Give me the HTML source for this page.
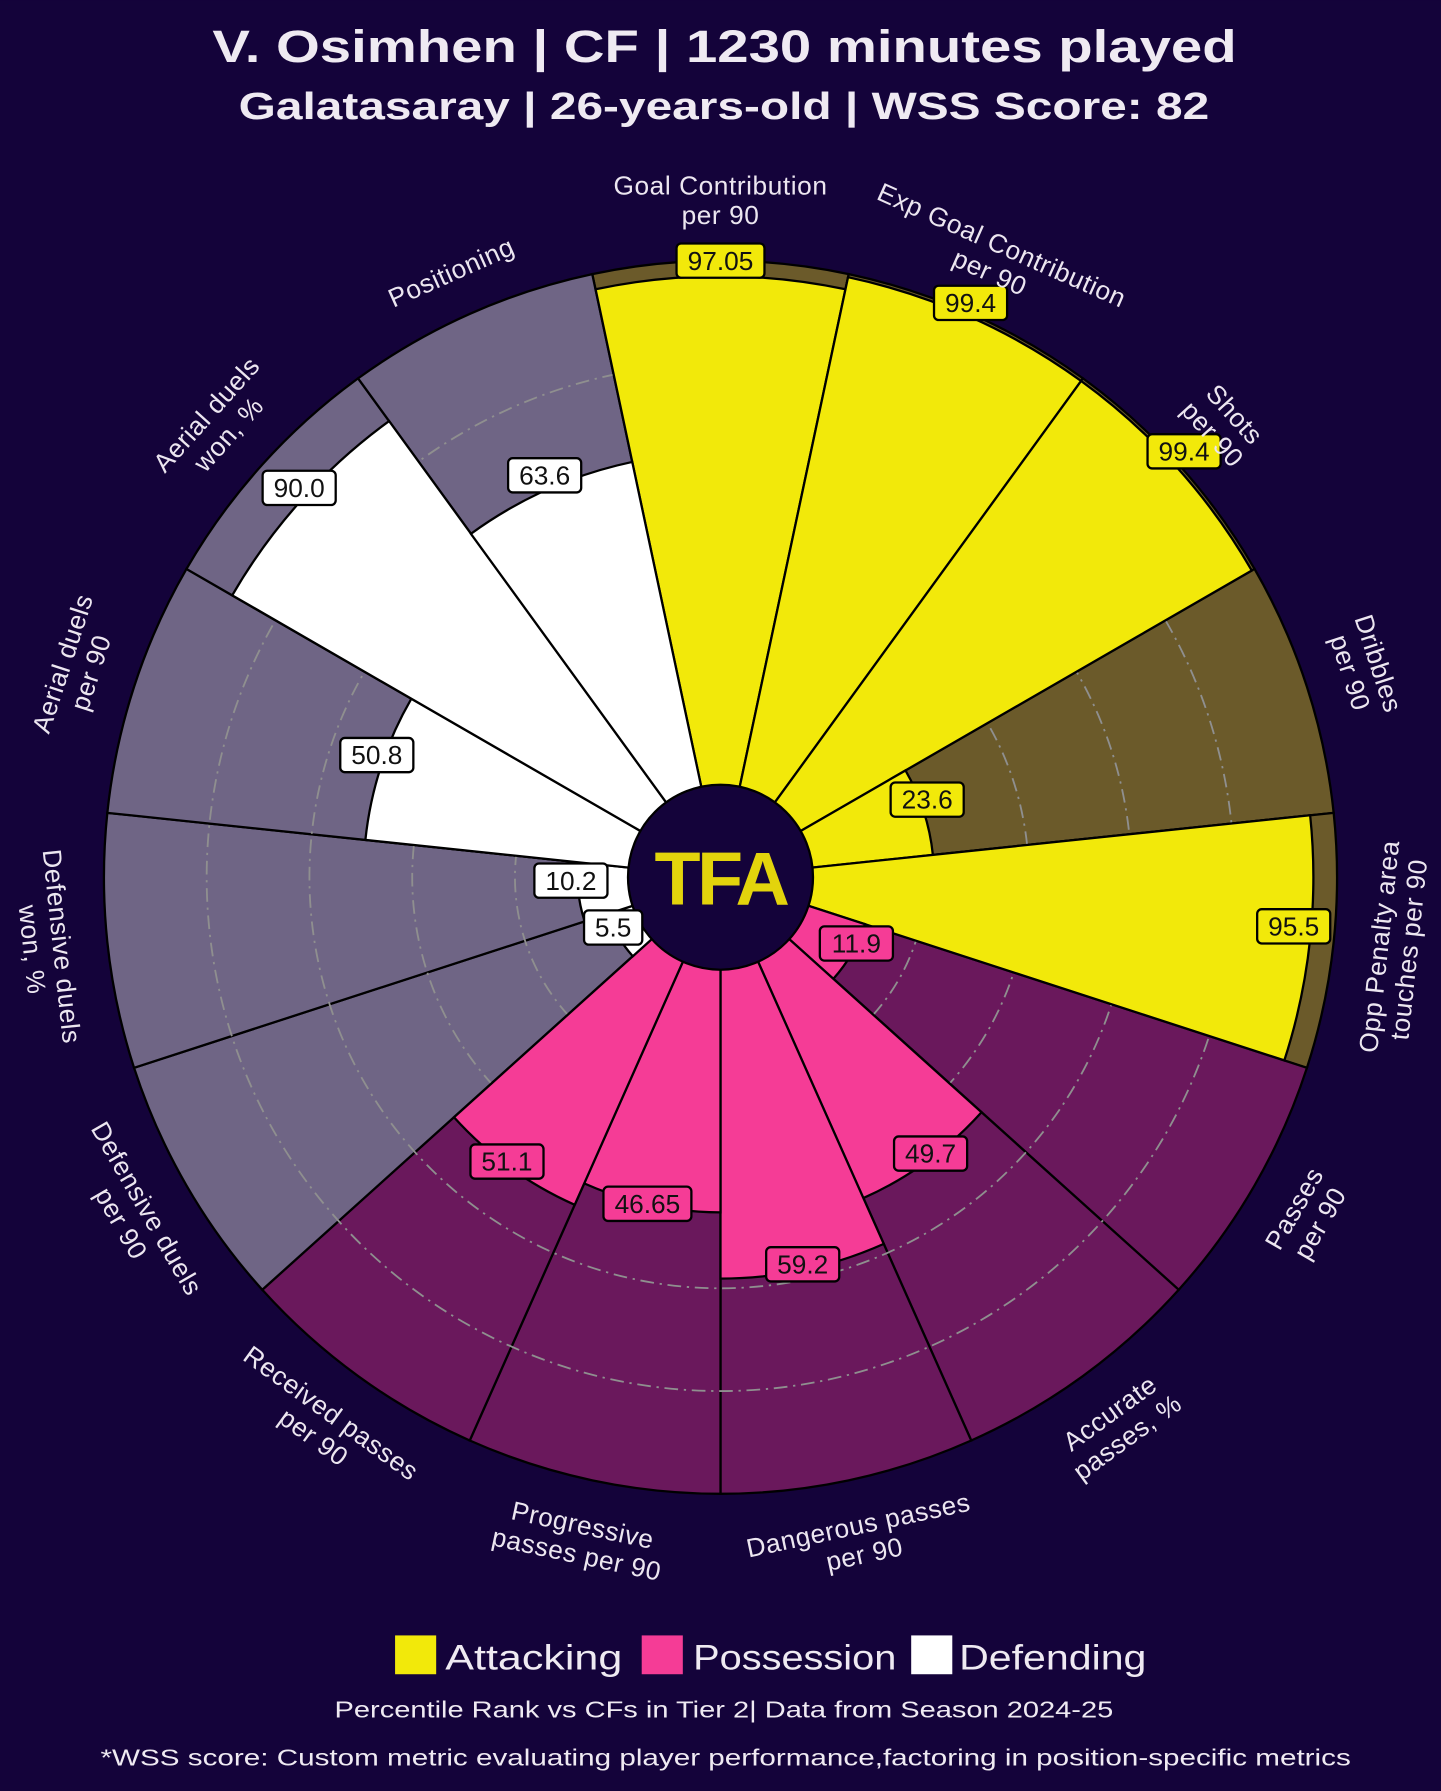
<!DOCTYPE html>
<html><head><meta charset="utf-8">
<style>
html,body{margin:0;padding:0;background:#14033a;}
svg{display:block;}
text{font-family:"Liberation Sans","DejaVu Sans",sans-serif;}
</style></head>
<body>
<svg id="s" width="1441" height="1791" viewBox="0 0 1262 1568" xmlns="http://www.w3.org/2000/svg">
<rect width="1262" height="1568" fill="#14033a"/>
<text x="186" y="54" font-size="40" font-weight="bold" fill="#efeaf2" textLength="897" lengthAdjust="spacingAndGlyphs">V. Osimhen | CF | 1230 minutes played</text>
<text x="209" y="104" font-size="33" font-weight="bold" fill="#efeaf2" textLength="850" lengthAdjust="spacingAndGlyphs">Galatasaray | 26-years-old | WSS Score: 82</text>
<g id="chart"></g>
<rect x="346" y="1432" width="36" height="34" fill="#f2e90a"/>
<text x="390" y="1462" font-size="31" fill="#efeaf2" textLength="155" lengthAdjust="spacingAndGlyphs">Attacking</text>
<rect x="562" y="1432" width="36" height="34" fill="#f53c96"/>
<text x="607" y="1462" font-size="31" fill="#efeaf2" textLength="178" lengthAdjust="spacingAndGlyphs">Possession</text>
<rect x="798" y="1432" width="36" height="34" fill="#ffffff"/>
<text x="840" y="1462" font-size="31" fill="#efeaf2" textLength="164" lengthAdjust="spacingAndGlyphs">Defending</text>
<text x="293" y="1504" font-size="20" fill="#efeaf2" textLength="682" lengthAdjust="spacingAndGlyphs">Percentile Rank vs CFs in Tier 2| Data from Season 2024-25</text>
<text x="88" y="1546" font-size="20" fill="#efeaf2" textLength="1095" lengthAdjust="spacingAndGlyphs">*WSS score: Custom metric evaluating player performance,factoring in position-specific metrics</text>
</svg>
<script>
const cx=631,cy=768;
const R=v=>78+4.62*v;
const A={bg:"#6b5a2a",fg:"#f2e90a"},P={bg:"#6a185c",fg:"#f53c96"},D={bg:"#6f6585",fg:"#ffffff"};
const m=[
["Goal Contribution|per 90",97.05,A,[631,228]],
["Exp Goal Contribution|per 90",99.4,A,[850,265]],
["Shots|per 90",99.4,A,[1037,395]],
["Dribbles|per 90",23.6,A,[812,700]],
["Opp Penalty area|touches per 90",95.5,A,[1133,811]],
["Passes|per 90",11.9,P,[750,826]],
["Accurate|passes, %",49.7,P,[815,1010]],
["Dangerous passes|per 90",59.2,P,[703,1107]],
["Progressive|passes per 90",46.65,P,[567,1054]],
["Received passes|per 90",51.1,P,[444,1017]],
["Defensive duels|per 90",5.5,D,[537,812]],
["Defensive duels|won, %",10.2,D,[500,771]],
["Aerial duels|per 90",50.8,D,[330,661]],
["Aerial duels|won, %",90.0,D,[262,427]],
["Positioning",63.6,D,[477,416]]];
function pt(r,deg){const a=deg*Math.PI/180;return [cx+r*Math.sin(a),cy-r*Math.cos(a)];}
function wedge(r,a0,a1,fill){const p0=pt(r,a0),p1=pt(r,a1);
return `<path d="M${cx},${cy} L${p0[0].toFixed(1)},${p0[1].toFixed(1)} A${r},${r} 0 0 1 ${p1[0].toFixed(1)},${p1[1].toFixed(1)} Z" fill="${fill}" stroke="#000" stroke-width="2"/>`;}
let h="";
m.forEach((d,i)=>{h+=wedge(R(100),i*24-12,i*24+12,d[2].bg);});
[90,180,270,360,450].forEach(r=>{h+=`<circle cx="${cx}" cy="${cy}" r="${r}" fill="none" stroke="#8f8f8f" stroke-width="1.6" stroke-dasharray="12 5 2 5"/>`;});
m.forEach((d,i)=>{h+=wedge(R(d[1]),i*24-12,i*24+12,d[2].fg);});
h+=`<circle cx="${cx}" cy="${cy}" r="81" fill="#14033a" stroke="#000" stroke-width="2"/>`;
h+=`<text x="${cx}" y="${cy+24}" text-anchor="middle" font-size="66" font-weight="bold" fill="#e3d40c" letter-spacing="-3">TFA</text>`;
m.forEach((d,i)=>{
 const [x,y]=d[3];const t=(d[1]===97.05||d[1]===46.65)?d[1].toFixed(2):d[1].toFixed(1);
 const w=t.length*13+12;
 h+=`<rect x="${x-w/2}" y="${y-15}" width="${w}" height="30" rx="4" fill="${d[2].fg}" stroke="#000" stroke-width="2"/>`;
 h+=`<text x="${x}" y="${y+8}" text-anchor="middle" font-size="23" fill="#111">${t}</text>`;
 const th=i*24>180?i*24-360:i*24;
 const lines=d[0].split("|");
 const bottom=Math.abs(th)>90;
 const r=bottom?580:580;
 const p=pt(r,th);
 const rot=bottom?th-180:th;
 let s=`<g transform="translate(${p[0].toFixed(1)},${p[1].toFixed(1)}) rotate(${rot})"><text text-anchor="middle" font-size="23" fill="#ece6f0" letter-spacing="0.5">`;
 const n=lines.length;
 lines.forEach((l,k)=>{const dy=bottom?(k*26+8):((k-(n-1))*26+8);s+=`<tspan x="0" y="${dy}">${l}</tspan>`;});
 s+=`</text></g>`;h+=s;
});
document.getElementById("chart").innerHTML=h;
</script>
</body></html>
